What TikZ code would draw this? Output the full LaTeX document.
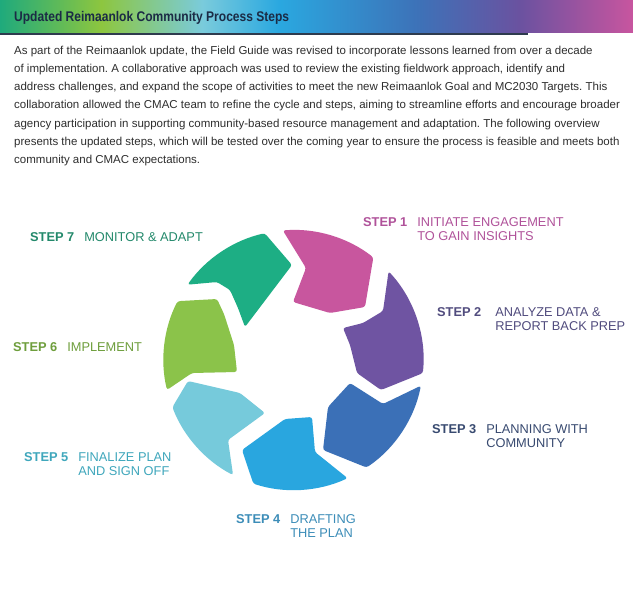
\documentclass[tikz,border=0pt]{standalone}
\usepackage{fontspec}
\setmainfont{Liberation Sans}
\newfontfamily\titlefont[FakeStretch=0.86]{Liberation Sans}
\usepackage{tikz}
\usetikzlibrary{positioning}
\definecolor{band1}{HTML}{1FAA7C}
\definecolor{band2}{HTML}{8DC63F}
\definecolor{band3}{HTML}{7ACBDC}
\definecolor{band4}{HTML}{2AA8E0}
\definecolor{band5}{HTML}{3D72B8}
\definecolor{band6}{HTML}{6A52A0}
\definecolor{band7}{HTML}{C8559F}
\definecolor{titleink}{HTML}{1B2B45}
\definecolor{introink}{HTML}{2E2E2E}
\definecolor{bandline}{HTML}{2E3B4E}
\definecolor{pink1}{HTML}{C8569E}
\definecolor{purple2}{HTML}{6F54A2}
\definecolor{blue3}{HTML}{3B70B7}
\definecolor{sky4}{HTML}{29A6DF}
\definecolor{cyan5}{HTML}{76CADB}
\definecolor{green6}{HTML}{8BC34A}
\definecolor{teal7}{HTML}{1DAE84}
\definecolor{ink1}{HTML}{B0529A}
\definecolor{ink2}{HTML}{514C7E}
\definecolor{ink3}{HTML}{384A70}
\definecolor{ink4}{HTML}{3C8DB8}
\definecolor{ink5}{HTML}{3FA7BC}
\definecolor{ink6}{HTML}{6E9E3C}
\definecolor{ink7}{HTML}{23896B}
\pgfdeclarehorizontalshading{headerband}{100bp}{color(0bp)=(band1); color(25bp)=(band1);
  color(33bp)=(band2); color(41bp)=(band3); color(47bp)=(band4);
  color(58bp)=(band5); color(66bp)=(band6); color(75bp)=(band7); color(100bp)=(band7)}
\frenchspacing

\begin{document}
\begin{tikzpicture}[
  x=1pt,
  y=1pt,
  segment/.style={draw=none,rounded corners=2.5pt},
  titletext/.style={
    anchor=base west,inner sep=0pt,text=titleink,
    font=\titlefont\bfseries\fontsize{14}{16}\selectfont
  },
  introtext/.style={
    anchor=north west,inner sep=0pt,align=left,text=introink,
    font=\fontsize{11.5}{18.3}\selectfont
  },
  steplabel/.style={
    anchor=base west,inner sep=0pt,font=\fontsize{12.8}{13.5}\selectfont
  }
]
  \useasboundingbox[fill=white] (0,0) rectangle (633,-605);

  % Header band
  \path[shading=headerband] (0,0) rectangle (633,-32);
  \draw[bandline,line width=2pt] (0,-33.5) -- (528,-33.5);
  \node[titletext] (title) at (14,-21) {Updated Reimaanlok Community Process Steps};

  % Intro
  \node[introtext] (intro) at (14,-45.5) {As part of the Reimaanlok update, the Field Guide was revised to incorporate lessons learned from over a decade\\
    of implementation. A collaborative approach was used to review the existing fieldwork approach, identify and\\
    address challenges, and expand the scope of activities to meet the new Reimaanlok Goal and MC2030 Targets. This\\
    collaboration allowed the CMAC team to refine the cycle and steps, aiming to streamline efforts and encourage broader\\
    agency participation in supporting community-based resource management and adaptation. The following overview\\
    presents the updated steps, which will be tested over the coming year to ensure the process is feasible and meets both\\
    community and CMAC expectations.};

  % Cycle
  \coordinate (ring) at (293.5,-360);
  \path[segment,fill=pink1] ([shift={(94.7:130)}]ring)
    arc[start angle=94.7,end angle=52.1,radius=130]
    -- (365,-307) -- (330,-313) -- (293,-302) -- (306,-268) -- cycle;
  \path[segment,fill=purple2] ([shift={(43:130)}]ring)
    arc[start angle=43,end angle=-5.8,radius=130]
    -- (381,-390) -- (357,-373) -- (350,-345) -- (343,-328)
    -- (363,-323) -- (383,-311) -- cycle;
  \path[segment,fill=blue3] ([shift={(-11.4:130)}]ring)
    arc[start angle=-11.4,end angle=-55.8,radius=130]
    -- (323,-450) -- (328,-407) -- (350,-383) -- (383,-404) -- cycle;
  \path[segment,fill=sky4] ([shift={(-65.4:130)}]ring)
    arc[start angle=-65.4,end angle=-108,radius=130]
    -- (242,-450) -- (285,-419) -- (312,-417) -- (315,-452) -- cycle;
  \path[segment,fill=cyan5] ([shift={(-117.7:130)}]ring)
    arc[start angle=-117.7,end angle=-158.7,radius=130]
    -- (188,-381) -- (240,-393) -- (265,-413) -- (228,-440) -- cycle;
  \path[segment,fill=green6] ([shift={(-166.7:130)}]ring)
    arc[start angle=-166.7,end angle=-206.9,radius=130]
    -- (217,-299) -- (224,-314) -- (234,-345) -- (237,-372) -- (192,-373) -- cycle;
  \path[segment,fill=teal7] ([shift={(144.6:130)}]ring)
    arc[start angle=144.6,end angle=102.8,radius=130]
    -- (292,-265) -- (245,-327) -- (238,-308) -- (230,-290) -- (217,-282) -- cycle;

  % Step labels
  \node[steplabel,text=ink1] (step1) at (363,-226.6) {\textbf{STEP 1}\hspace{10pt}\begin{tabular}[t]{@{}l@{}}INITIATE ENGAGEMENT\\TO GAIN INSIGHTS\end{tabular}};
  \node[steplabel,text=ink2] (step2) at (437,-316.6) {\textbf{STEP 2}\hspace{14pt}\begin{tabular}[t]{@{}l@{}}ANALYZE DATA \&\\REPORT BACK PREP\end{tabular}};
  \node[steplabel,text=ink3] (step3) at (432,-433.6) {\textbf{STEP 3}\hspace{10pt}\begin{tabular}[t]{@{}l@{}}PLANNING WITH\\COMMUNITY\end{tabular}};
  \node[steplabel,text=ink4] (step4) at (236,-523.6) {\textbf{STEP 4}\hspace{10pt}\begin{tabular}[t]{@{}l@{}}DRAFTING\\THE PLAN\end{tabular}};
  \node[steplabel,text=ink5] (step5) at (24,-461.6) {\textbf{STEP 5}\hspace{10pt}\begin{tabular}[t]{@{}l@{}}FINALIZE PLAN\\AND SIGN OFF\end{tabular}};
  \node[steplabel,text=ink6] (step6) at (13,-351.6) {\textbf{STEP 6}\hspace{10pt}IMPLEMENT};
  \node[steplabel,text=ink7] (step7) at (30,-241.6) {\textbf{STEP 7}\hspace{10pt}MONITOR \& ADAPT};
\end{tikzpicture}
\end{document}
